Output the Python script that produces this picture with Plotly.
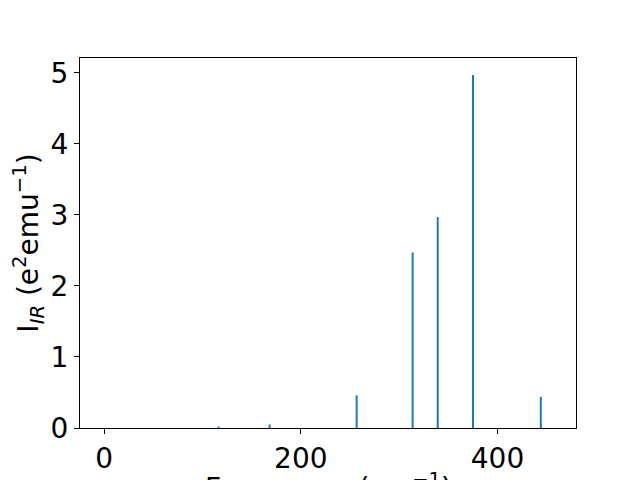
import plotly.graph_objects as go

frequencies = [116.4, 168.3, 256.8, 313.7, 339.2, 375.1, 444.0]
intensities = [0.02, 0.05, 0.46, 2.47, 2.97, 4.97, 0.44]
x_title = "Frequency (cm<sup>−1</sup>)"
y_title = "I<sub><i>IR</i></sub> (e<sup>2</sup>emu<sup>−1</sup>)"

xs, ys = [], []
for f, i in zip(frequencies, intensities):
    xs += [f, f, None]
    ys += [0, i, None]

fig = go.Figure()
fig.add_trace(go.Scatter(x=xs, y=ys, mode="lines",
                         line=dict(color="#1f77b4", width=2),
                         showlegend=False, hoverinfo="skip"))

font = dict(family="DejaVu Sans", size=28, color="black")
fig.update_layout(
    width=640, height=480,
    margin=dict(l=72, r=72, t=50, b=60, autoexpand=False),
    paper_bgcolor="white", plot_bgcolor="white",
    font=font,
    xaxis=dict(range=[-24.5, 479.8], tickvals=[0, 200, 400],
               showgrid=False, zeroline=False, automargin=False,
               showline=True, linecolor="black", linewidth=1, mirror=True,
               ticks="outside", ticklen=5, tickcolor="black",
               tickfont=font),
    yaxis=dict(range=[0, 5.21], tickvals=[0, 1, 2, 3, 4, 5],
               showgrid=False, zeroline=False, automargin=False,
               showline=True, linecolor="black", linewidth=1, mirror=True,
               ticks="outside", ticklen=5, tickcolor="black",
               tickfont=font,
               title=dict(text=y_title, font=font, standoff=10)),
    annotations=[dict(text=x_title, xref="paper", yref="paper", x=0.5, y=0,
                      xanchor="center", yanchor="top", yshift=-38,
                      showarrow=False, font=font)],
)
fig.write_html("out.html")
